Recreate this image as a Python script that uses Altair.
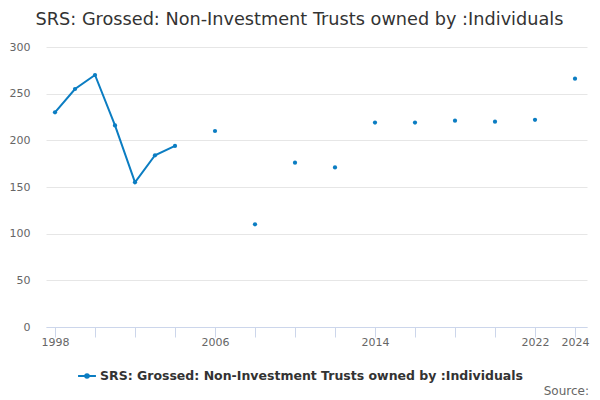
import altair as alt
import pandas as pd

years = list(range(1998, 2025))
values = [230, 255, 270, 216, 155, 184, 194,
          None, 210, None, 110, None, 176, None, 171, None,
          219, None, 219, None, 221, None, 220, None, 222, None, 266]
series_name = "SRS: Grossed: Non-Investment Trusts owned by :Individuals"
tick_years = list(range(1998, 2025, 2))
label_years = [1998, 2006, 2014, 2022, 2024]

df = pd.DataFrame({"year": years, "value": values, "series": series_name})

COLOR = "#0b7dc2"
FONT = "DejaVu Sans"

x = alt.X("year:Q", scale=alt.Scale(domain=[1997.55, 2024.6], nice=False, zero=False),
          axis=alt.Axis(values=tick_years, format="d", title=None,
                        labelExpr="indexof(%s, datum.value) >= 0 ? datum.label : ''" % str(label_years),
                        grid=False, domainColor="#ccd6eb", tickColor="#ccd6eb", tickSize=10,
                        labelColor="#666666", labelFontSize=11, labelPadding=-1,
                        labelFlush=False, labelOverlap=False))
y = alt.Y("value:Q", scale=alt.Scale(domain=[0, 300], nice=False),
          axis=alt.Axis(values=[0, 50, 100, 150, 200, 250, 300], title=None, domain=False, ticks=False,
                        gridColor="#e6e6e6", labelColor="#666666", labelFontSize=11, labelPadding=16))

legend_symbol = "M-1,0H1M-0.2,0a0.2,0.2 0 1,0 0.4,0a0.2,0.2 0 1,0 -0.4,0"

line = alt.Chart(df).mark_line(strokeWidth=2, color=COLOR).encode(
    x=x, y=y,
    color=alt.Color("series:N", scale=alt.Scale(range=[COLOR]),
                    legend=alt.Legend(title=None, orient="none", legendX=31, legendY=319,
                                      symbolType=legend_symbol, symbolStrokeWidth=2, symbolSize=320,
                                      symbolFillColor=COLOR, symbolStrokeColor=COLOR,
                                      labelFontWeight="bold", labelFontSize=12.5, labelColor="#333333",
                                      labelFont=FONT, labelLimit=0, labelOffset=3))
)
points = alt.Chart(df).mark_point(filled=True, size=18, color=COLOR, opacity=1).encode(x=x, y=y)

source = alt.Chart(pd.DataFrame({"t": ["Source:"]})).mark_text(
    align="right", baseline="alphabetic", fontSize=12, color="#666666", font=FONT
).encode(text="t:N", x=alt.value(543), y=alt.value(348))

chart = alt.layer(line, points, source).properties(
    width=541, height=280,
    autosize=alt.AutoSizeParams(type="none"),
    padding={"left": 38, "top": 39, "right": 5, "bottom": 70},
    title=alt.TitleParams(series_name, fontSize=17.7, font=FONT, fontWeight="normal",
                          color="#333333", anchor="middle", dx=-17, offset=12),
).configure_view(stroke=None).configure_axis(labelFont=FONT)

chart.save("out.html", embed_options={"renderer": "svg", "actions": False})
